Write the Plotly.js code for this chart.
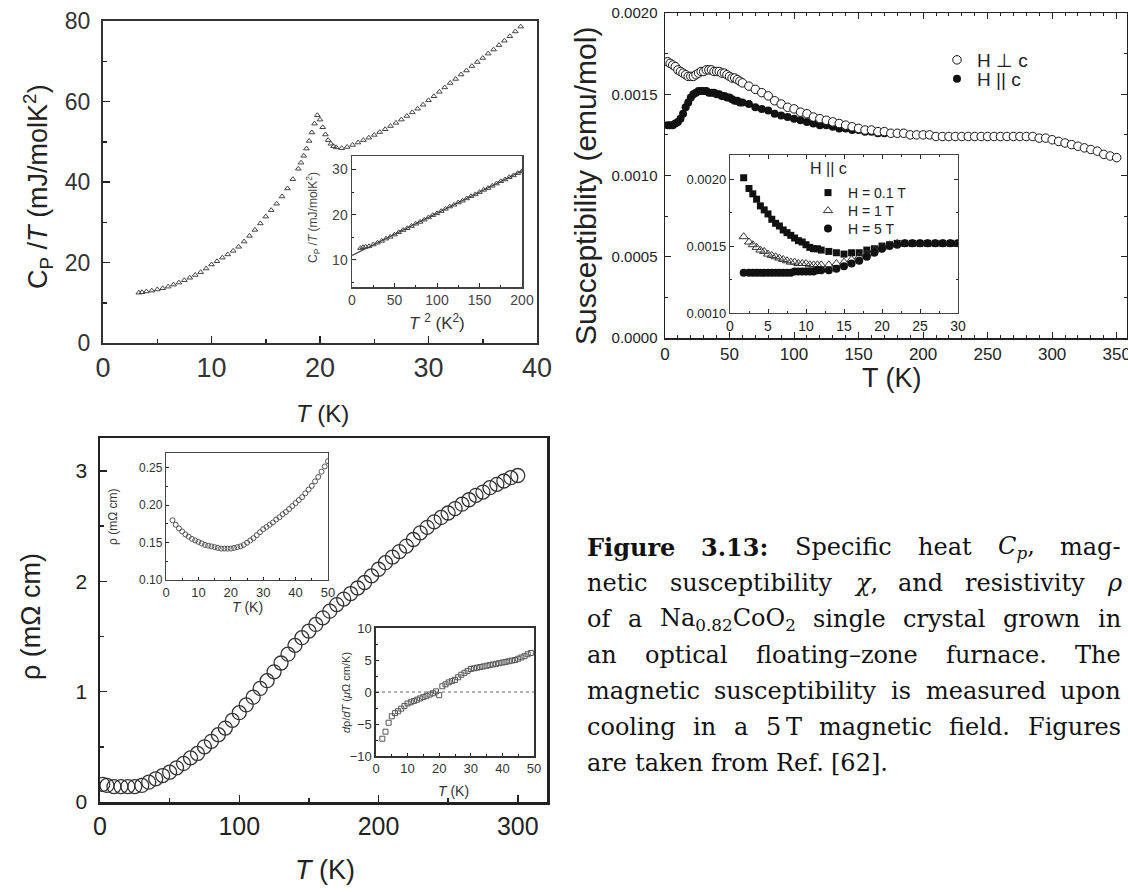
<!DOCTYPE html>
<html><head><meta charset="utf-8">
<script src="https://cdn.plot.ly/plotly-3.0.1.min.js"></script>
<style>html,body{margin:0;padding:0;background:#fff;} #chart{width:1128px;height:892px;}</style>
</head><body><div id="chart"></div>
<script>
// ---------- Panel A: specific heat ----------
const cpT = [3.3,3.6,4,4.5,5,5.5,6,6.5,7,7.5,8,8.5,9,9.5,10,10.5,11,11.5,12,12.5,13,13.5,14,14.5,15,15.5,16,16.5,17,17.5,18,18.25,18.5,18.75,19,19.25,19.5,19.75,20,20.25,20.5,20.75,21,21.25,21.5,22,22.5,23,23.5,24,24.5,25,25.5,26,26.5,27,27.5,28,28.5,29,29.5,30,30.5,31,31.5,32,32.5,33,33.5,34,34.5,35,35.5,36,36.5,37,37.5,38,38.5];
const cpOverT = [12.5,12.6,12.8,13.0,13.3,13.6,14.0,14.5,15.0,15.6,16.2,16.9,17.6,18.5,19.5,20.3,21.2,22.0,22.9,23.9,25.2,26.6,28.1,29.7,31.4,33.0,34.6,36.4,38.4,40.7,43.3,44.8,46.5,48.3,50.2,52.3,54.5,56.6,55.5,53.6,51.8,50.4,49.5,48.9,48.6,48.4,48.7,49.2,49.8,50.4,51.0,51.7,52.4,53.1,53.9,54.7,55.5,56.4,57.3,58.2,59.2,60.3,61.3,62.4,63.5,64.6,65.6,66.7,67.7,68.8,69.8,70.8,71.9,72.9,74.0,75.1,76.2,77.4,78.6];
// inset: Cp/T vs T^2
const t2 = [10,13,16,20,25,30,35,40,45,50,55,60,65,70,75,80,85,90,95,100,105,110,115,120,125,130,135,140,145,150,155,160,165,170,175,180,185,190,195,200];
const cpOverT2 = [12.6,12.8,12.9,13.0,13.4,13.8,14.2,14.7,15.1,15.6,16.1,16.6,17.0,17.5,18.0,18.4,18.9,19.4,19.9,20.3,20.8,21.3,21.8,22.2,22.7,23.1,23.6,24.1,24.5,25.0,25.5,25.9,26.4,26.9,27.4,27.8,28.3,28.7,29.2,29.6];
const fitT2 = [0,200];
const fitCp = [11.0,29.7];

// ---------- Panel B: susceptibility ----------
const perpT = [2,4,6,8,10,12,14,16,18,20,22,24,26,28,30,32,34,36,38,40,42,44,46,48,50,52,54,56,58,60,65,70,75,80,85,90,95,100,105,110,115,120,125,130,135,140,145,150,155,160,165,170,175,180,185,190,195,200,205,210,215,220,225,230,235,240,245,250,255,260,265,270,275,280,285,290,295,300,305,310,315,320,325,330,335,340,345,350];
const perpChi = [0.00170,0.00169,0.00168,0.00167,0.00165,0.00164,0.00163,0.00162,0.00161,0.00161,0.00161,0.00162,0.00163,0.00164,0.00164,0.00165,0.00165,0.00165,0.00164,0.00164,0.00164,0.00163,0.00163,0.00162,0.00161,0.00160,0.00160,0.00159,0.00158,0.00157,
0.00155,0.00153,0.00151,0.00149,0.00146,0.00144,0.00142,0.00141,0.00139,0.00138,0.00136,0.00135,0.00134,0.00133,0.00132,0.00131,0.00130,0.00129,0.00128,0.00128,0.00127,0.00127,0.00126,0.00126,0.00126,0.00125,0.00125,0.00125,0.00125,0.00124,0.00124,0.00124,0.00124,0.00124,0.00124,0.00124,0.00124,0.00124,0.00124,0.00124,0.00124,0.00124,0.00124,0.00124,0.00124,0.00123,0.00123,0.00122,0.00121,0.00120,0.00119,0.00118,0.00117,0.00116,0.00115,0.00113,0.00112,0.00111];
const paraT = [2,4,6,8,10,12,14,16,18,20,22,24,26,28,30,32,34,36,38,40,42,44,46,48,50,52,54,56,58,60,65,70,75,80,85,90,95,100,105,110,115,120,125,130,135,140,145,150,155,160,165,170];
const paraChi = [0.00131,0.00131,0.00131,0.00132,0.00133,0.00135,0.00138,0.00142,0.00145,0.00148,0.00150,0.00151,0.00152,0.00152,0.00152,0.00152,0.00151,0.00151,0.00151,0.00150,0.00150,0.00149,0.00149,0.00148,0.00148,0.00147,0.00146,0.00146,0.00145,0.00145,
0.00144,0.00142,0.00141,0.00140,0.00138,0.00137,0.00136,0.00135,0.00134,0.00133,0.00132,0.00131,0.00131,0.00130,0.00129,0.00129,0.00128,0.00128,0.00127,0.00127,0.00126,0.00126];
// inset: H || c at three fields
const tLow = [1.8,2.5,3,3.5,4,4.5,5,5.5,6,6.5,7,7.5,8,8.5,9,9.5,10,10.5,11,11.5,12,13,14,15,16,17,18,19,20,21,22,23,24,25,26,27,28,29,30];
const chi01T = [0.00201,0.00193,0.00189,0.00185,0.00180,0.00177,0.00174,0.00170,0.00167,0.00165,0.00162,0.00160,0.00158,0.00156,0.00154,0.00153,0.00151,0.00149,0.00148,0.00148,0.00147,0.00146,0.00145,0.00144,0.00145,0.00145,0.00147,0.00148,0.00150,0.00151,0.00152,0.00152,0.00152,0.00152,0.00152,0.00152,0.00152,0.00152,0.00152];
const chi1T = [0.00157,0.00153,0.00151,0.00149,0.00147,0.00146,0.00144,0.00143,0.00142,0.00141,0.00140,0.00139,0.00138,0.00138,0.00137,0.00137,0.00137,0.00136,0.00136,0.00136,0.00136,0.00136,0.00137,0.00138,0.00140,0.00142,0.00144,0.00147,0.00149,0.00151,0.00152,0.00152,0.00152,0.00152,0.00152,0.00152,0.00152,0.00152,0.00152];
const chi5T = [0.00130,0.00130,0.00130,0.00130,0.00130,0.00130,0.00130,0.00130,0.00130,0.00130,0.00130,0.00130,0.00130,0.00131,0.00131,0.00131,0.00131,0.00131,0.00131,0.00132,0.00132,0.00132,0.00133,0.00135,0.00137,0.00139,0.00142,0.00145,0.00148,0.00150,0.00151,0.00152,0.00152,0.00152,0.00152,0.00152,0.00152,0.00152,0.00152];

// ---------- Panel C: resistivity ----------
const rhoT = [2,5,10,15,20,25,30,35,40,45,50,55,60,65,70,75,80,85,90,95,100,105,110,115,120,125,130,135,140,145,150,155,160,165,170,175,180,185,190,195,200,205,210,215,220,225,230,235,240,245,250,255,260,265,270,275,280,285,290,295,300];
const rho = [0.16,0.15,0.14,0.14,0.14,0.14,0.15,0.18,0.21,0.24,0.27,0.31,0.35,0.40,0.44,0.50,0.55,0.61,0.67,0.74,0.81,0.88,0.95,1.03,1.10,1.18,1.26,1.34,1.42,1.49,1.55,1.61,1.67,1.73,1.79,1.84,1.89,1.94,1.99,2.05,2.11,2.17,2.22,2.27,2.32,2.38,2.44,2.49,2.54,2.58,2.62,2.66,2.70,2.74,2.78,2.81,2.85,2.88,2.91,2.94,2.96];
const rhoLowT = [2,3,4,5,6,7,8,9,10,11,12,13,14,15,16,17,18,19,20,21,22,23,24,25,26,27,28,29,30,31,32,33,34,35,36,37,38,39,40,41,42,43,44,45,46,47,48,49,50];
const rhoLow = [0.180,0.174,0.169,0.165,0.161,0.158,0.155,0.153,0.151,0.149,0.147,0.146,0.145,0.144,0.143,0.142,0.142,0.142,0.142,0.143,0.144,0.145,0.147,0.150,0.153,0.156,0.160,0.164,0.168,0.171,0.174,0.177,0.181,0.184,0.188,0.191,0.195,0.199,0.203,0.207,0.211,0.216,0.221,0.226,0.232,0.238,0.245,0.252,0.259];
const dT = [2,3,4,5,6,7,8,9,10,11,12,13,14,15,16,17,18,19,20,21,22,23,24,25,26,27,28,29,30,31,32,33,34,35,36,37,38,39,40,41,42,43,44,45,46,47,48,49];
const dRhodT = [-7.3,-6.2,-4.8,-3.8,-3.3,-3.0,-2.6,-2.2,-1.8,-1.6,-1.4,-1.2,-1.0,-0.8,-0.6,-0.4,-0.2,0.1,-0.5,0.9,1.2,1.5,1.7,1.9,2.3,2.7,3.0,3.3,3.6,3.7,3.8,3.9,4.0,4.1,4.2,4.3,4.4,4.5,4.6,4.7,4.8,4.9,5.0,5.2,5.4,5.6,5.9,6.1];
const zeroX = [0,50];
const zeroY = [0,0];

// ---------- Caption ----------
const captionLines = [
 ['<b>Figure</b>','<b>3.13:</b>','Specific','heat','<i>C</i><sub><i>p</i></sub>,','mag-'],
 ['netic','susceptibility','<i>χ</i>,','and','resistivity','<i>ρ</i>'],
 ['of','a','Na<sub>0.82</sub>CoO<sub>2</sub>','single','crystal','grown','in'],
 ['an','optical','floating–zone','furnace.','The'],
 ['magnetic','susceptibility','is','measured','upon'],
 ['cooling','in','a','5\u2009T','magnetic','field.','Figures'],
 ['are','taken','from','Ref.','[62].']
];

// ---------- helpers ----------
const W = 1128, H = 892;
const px = v => v / W, py = v => 1 - v / H;
const SANS = 'Liberation Sans, Arial, sans-serif';
const SERIF = 'DejaVu Serif';
function ax(o) {
  return Object.assign({showgrid:false, zeroline:false, showline:true, mirror:true, linecolor:'#222',
    ticks:'inside', tickcolor:'#222', automargin:false, fixedrange:true, ticklabeloverflow:'allow'}, o);
}
function minor(d, len) { return {dtick:d, ticks:'inside', ticklen:len, tickcolor:'#222', showgrid:false}; }

const traces = [
  {x:cpT, y:cpOverT, xaxis:'x', yaxis:'y', mode:'markers', showlegend:false,
   marker:{symbol:'triangle-up-open', size:5, color:'#444', line:{width:1}}},
  {x:fitT2, y:fitCp, xaxis:'x2', yaxis:'y2', mode:'lines', showlegend:false, line:{color:'#444', width:1.2}},
  {x:t2, y:cpOverT2, xaxis:'x2', yaxis:'y2', mode:'markers', showlegend:false,
   marker:{symbol:'triangle-up-open', size:5, color:'#444', line:{width:1}}},
  {x:paraT, y:paraChi, xaxis:'x3', yaxis:'y3', mode:'markers', name:'H || c', legend:'legend3',
   marker:{symbol:'circle', size:8, color:'#111'}},
  {x:perpT, y:perpChi, xaxis:'x3', yaxis:'y3', mode:'markers', name:'H ⊥ c', legend:'legend',
   marker:{symbol:'circle', size:8.5, color:'#fff', line:{color:'#111', width:1}}},
  {x:tLow, y:chi01T, xaxis:'x4', yaxis:'y4', mode:'markers', name:'H = 0.1 T', legend:'legend2',
   marker:{symbol:'square', size:7, color:'#111'}},
  {x:tLow, y:chi1T, xaxis:'x4', yaxis:'y4', mode:'markers', name:'H = 1 T', legend:'legend4',
   marker:{symbol:'triangle-up-open', size:8, color:'#333', line:{width:1}}},
  {x:tLow, y:chi5T, xaxis:'x4', yaxis:'y4', mode:'markers', name:'H = 5 T', legend:'legend5',
   marker:{symbol:'circle', size:8, color:'#111'}},
  {x:rhoT, y:rho, xaxis:'x5', yaxis:'y5', mode:'markers', showlegend:false,
   marker:{symbol:'circle-open', size:14, color:'#333', line:{width:1.3}}},
  {x:rhoLowT, y:rhoLow, xaxis:'x6', yaxis:'y6', mode:'markers', showlegend:false,
   marker:{symbol:'circle-open', size:5, color:'#555', line:{width:1}}},
  {x:zeroX, y:zeroY, xaxis:'x7', yaxis:'y7', mode:'lines', showlegend:false, line:{color:'#666', width:1, dash:'dot'}},
  {x:dT, y:dRhodT, xaxis:'x7', yaxis:'y7', mode:'markers', showlegend:false,
   marker:{symbol:'square-open', size:5, color:'#555', line:{width:1}}}
];

const fA = {family:SANS, color:'#333'};
function leg(x, y, size, extra) {
  return Object.assign({x:px(x), y:py(y), xanchor:'left', yanchor:'middle', bgcolor:'rgba(0,0,0,0)', borderwidth:0,
    font:{family:SANS, size:size, color:'#222'}, itemwidth:30, tracegroupgap:0}, extra||{});
}
const layout = {
  width:W, height:H, margin:{l:0,r:0,t:0,b:0}, paper_bgcolor:'#fff', plot_bgcolor:'rgba(0,0,0,0)',
  font:{family:SANS, color:'#222'},
  // A
  xaxis: ax({domain:[px(103),px(537)], range:[0,40], anchor:'y', dtick:10, ticklen:7, tickwidth:1.5, linewidth:2, linecolor:'#333',
    minor:minor(5,4), tickfont:Object.assign({size:27},fA)}),
  yaxis: ax({domain:[py(343),py(21)], range:[0,80], anchor:'x', dtick:20, ticklen:7, tickwidth:1.5, linewidth:2, linecolor:'#333',
    minor:minor(10,4), tickfont:Object.assign({size:23},fA), ticklabelstandoff:6}),
  // A inset
  xaxis2: ax({domain:[px(352),px(522)], range:[0,200], anchor:'y2', dtick:50, ticklen:4, linewidth:1.5, linecolor:'#444',
    minor:minor(25,2), tickfont:{size:14, color:'#444'}}),
  yaxis2: ax({domain:[py(287),py(156)], range:[4,33], anchor:'x2', dtick:10, ticklen:4, linewidth:1.5, linecolor:'#444',
    minor:minor(5,2), tickfont:{size:14, color:'#444'}}),
  // B
  xaxis3: ax({domain:[px(665),px(1127)], range:[0,358], anchor:'y3', dtick:50, ticklen:6, linewidth:1.5, mirror:'allticks',
    minor:minor(10,3), tickfont:{size:17, color:'#222'}}),
  yaxis3: ax({domain:[py(338),py(13)], range:[0,0.002], anchor:'x3', dtick:0.0005, tickformat:'.4f', ticklen:6, linewidth:1.5, mirror:'allticks',
    minor:minor(0.00025,3), tickfont:{size:15, color:'#222'}, ticklabelstandoff:3}),
  // B inset
  xaxis4: ax({domain:[px(730),px(958)], range:[0,30], anchor:'y4', dtick:5, ticklen:4, linewidth:1.2, linecolor:'#444', mirror:'allticks',
    minor:minor(2.5,2), tickfont:{size:14, color:'#222'}}),
  yaxis4: ax({domain:[py(313),py(155)], range:[0.001,0.00218], anchor:'x4', dtick:0.0005, tickformat:'.4f', ticklen:4, linewidth:1.2, linecolor:'#444', mirror:'allticks',
    minor:minor(0.00025,2), tickfont:{size:13, color:'#222'}}),
  // C
  xaxis5: ax({domain:[px(100),px(547)], range:[0,321], anchor:'y5', dtick:100, ticklen:7, tickwidth:1.5, linewidth:2.5,
    minor:minor(50,4), tickfont:{size:25, color:'#222'}}),
  yaxis5: ax({domain:[py(802),py(438)], range:[0,3.3], anchor:'x5', dtick:1, ticklen:7, tickwidth:1.5, linewidth:2.5,
    minor:minor(0.5,4), tickfont:{size:21, color:'#222'}, ticklabelstandoff:6}),
  // C inset 1
  xaxis6: ax({domain:[px(166),px(328)], range:[0,50], anchor:'y6', dtick:10, ticklen:3, linewidth:1.2, linecolor:'#444',
    minor:minor(5,2), tickfont:{size:13, color:'#333'}}),
  yaxis6: ax({domain:[py(580),py(453)], range:[0.10,0.27], anchor:'x6', dtick:0.05, tickformat:'.2f', ticklen:3, linewidth:1.2, linecolor:'#444',
    minor:minor(0.025,2), tickfont:{size:12, color:'#333'}}),
  // C inset 2
  xaxis7: ax({domain:[px(376),px(534)], range:[0,50], anchor:'y7', dtick:10, ticklen:3, linewidth:1.6, linecolor:'#333',
    minor:minor(5,2), tickfont:{size:13, color:'#333'}}),
  yaxis7: ax({domain:[py(756),py(628)], range:[-10,10], anchor:'x7', dtick:5, ticklen:3, linewidth:1.6, linecolor:'#333',
    minor:minor(2.5,2), tickfont:{size:13, color:'#333'}}),
  legend: leg(937, 60, 19),
  legend3: leg(937, 79, 19),
  legend2: leg(808, 193, 14),
  legend4: leg(808, 211, 14),
  legend5: leg(808, 229, 14),
  annotations: []
};

function ann(text, x, y, size, opts) {
  layout.annotations.push(Object.assign({text:text, x:px(x), y:py(y), xref:'paper', yref:'paper', showarrow:false,
    xanchor:'center', yanchor:'middle', font:{family:SANS, size:size, color:'#222'}}, opts||{}));
}
// axis titles and legend heading
ann('C<sub>P</sub> /<i>T</i> (mJ/molK<sup>2</sup>)', 38, 187, 27, {textangle:-90});
ann('<i>T</i> (K)', 322, 413, 24);
ann('C<sub>P</sub> /<i>T</i> (mJ/molK<sup>2</sup>)', 313, 218, 12, {textangle:-90, font:{family:SANS,size:12,color:'#444'}});
ann('<i>T</i> <sup>2</sup> (K<sup>2</sup>)', 437, 322, 17, {font:{family:SANS,size:17,color:'#333'}});
ann('Susceptibility (emu/mol)', 585, 186, 30, {textangle:-90});
ann('T (K)', 892, 378, 27);
ann('H || c', 808, 169, 16, {xanchor:'left'});
ann('ρ (mΩ cm)', 31, 617, 27, {textangle:-90});
ann('<i>T</i> (K)', 325, 870, 27);
ann('ρ (mΩ cm)', 113, 517, 12, {textangle:-90, font:{family:SANS,size:12,color:'#333'}});
ann('<i>T</i> (K)', 247, 607, 14, {font:{family:SANS,size:14,color:'#333'}});
ann('<i>d</i>ρ/<i>dT</i> (<i>μ</i>Ω cm/K)', 346, 693, 11, {textangle:-90, font:{family:SANS,size:11,color:'#333'}});
ann('<i>T</i> (K)', 453, 791, 14, {font:{family:SANS,size:14,color:'#333'}});

// caption: justified word placement
const cv = document.createElement('canvas').getContext('2d');
const CAP = 24;
function measure(html, size) {
  let w = 0, b = false, it = false, sb = false, m;
  const re = /<(\/?)(b|i|sub)>|([^<]+)/g;
  while ((m = re.exec(html))) {
    if (m[2]) { const on = !m[1]; if (m[2] === 'b') b = on; else if (m[2] === 'i') it = on; else sb = on; }
    else { cv.font = (it?'italic ':'') + (b?'bold ':'') + (sb? size*0.7 : size) + 'px "' + SERIF + '"'; w += cv.measureText(m[3]).width; }
  }
  return w;
}
const capL = 586, capR = 1120, capY0 = 547, capDY = 36;
captionLines.forEach((words, k) => {
  const ws = words.map(w => measure(w, CAP));
  const tot = ws.reduce((a, b) => a + b, 0);
  const last = k === captionLines.length - 1;
  const gap = last ? CAP * 0.32 : (capR - capL - tot) / (words.length - 1);
  let x = capL;
  words.forEach((w, j) => {
    ann(w, x, capY0 + k * capDY, CAP, {xanchor:'left', borderpad:0, font:{family:SERIF, size:CAP, color:'#111'}});
    x += ws[j] + gap;
  });
});

Plotly.newPlot('chart', traces, layout, {staticPlot:true, displayModeBar:false});
</script>
</body></html>
